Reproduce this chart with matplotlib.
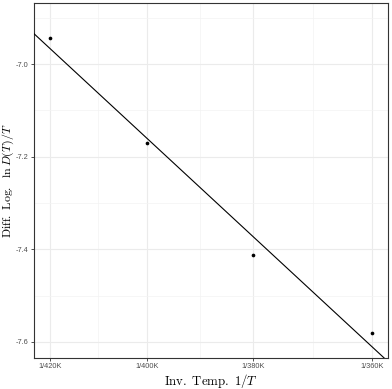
import numpy as np
import matplotlib
matplotlib.use("Agg")
import matplotlib.pyplot as plt

plt.rcParams['mathtext.fontset'] = 'cm'
plt.rcParams['font.family'] = ['Liberation Sans', 'DejaVu Sans']

temps = [420, 400, 380, 360]  # K
tick_labels = ['1/420K', '1/400K', '1/380K', '1/360K']
diff_log = [-6.944, -7.171, -7.413, -7.582]  # ln D(T)/T

x = 1.0 / np.array(temps)
y = np.array(diff_log)

fig = plt.figure(figsize=(3.92, 3.89), dpi=100)
ax = fig.add_axes([34/392, 1 - 358/389, 354/392, 355/389])

# x limits: ggplot style 5% expansion
span = x.max() - x.min()
xlo, xhi = x.min() - 0.05*span, x.max() + 0.05*span
ax.set_xlim(xlo, xhi)
ax.set_ylim(-7.635, -6.868)

# least squares line over the full panel
k, b = np.polyfit(x, y, 1)
xx = np.array([xlo, xhi])
ax.plot(xx, k*xx + b, color='black', lw=0.8, zorder=3)
ax.scatter(x, y, s=7, color='black', zorder=4, linewidths=0)

ax.set_xticks(x)
ax.set_xticklabels(tick_labels)
ax.set_xticks((x[:-1] + x[1:]) / 2, minor=True)
yt = [-7.6, -7.4, -7.2, -7.0]
ax.set_yticks(yt)
ax.set_yticklabels(['-7.6', '-7.4', '-7.2', '-7.0'])
ax.set_yticks([-7.5, -7.3, -7.1, -6.9], minor=True)

ax.grid(which='major', color='#ebebeb', lw=0.8)
ax.grid(which='minor', color='#f3f3f3', lw=0.5)
ax.set_axisbelow(True)
for s in ax.spines.values():
    s.set_color('#333333')
    s.set_linewidth(0.8)
ax.tick_params(which='major', length=2.2, width=0.6, color='#333333',
               labelsize=5.3, labelcolor='#4d4d4d', pad=1.5)
ax.tick_params(which='minor', length=0)

ax.set_xlabel(r'$\mathrm{Inv.\ Temp.}\ 1/T$', fontsize=9.2, labelpad=1.5)
ax.set_ylabel(r'$\mathrm{Diff.\ Log.}\ \ \ln D(T)/T$', fontsize=8.6, va='center')
ax.yaxis.set_label_coords(-25.5/354, 0.5)

fig.savefig('out.png', dpi=100)
